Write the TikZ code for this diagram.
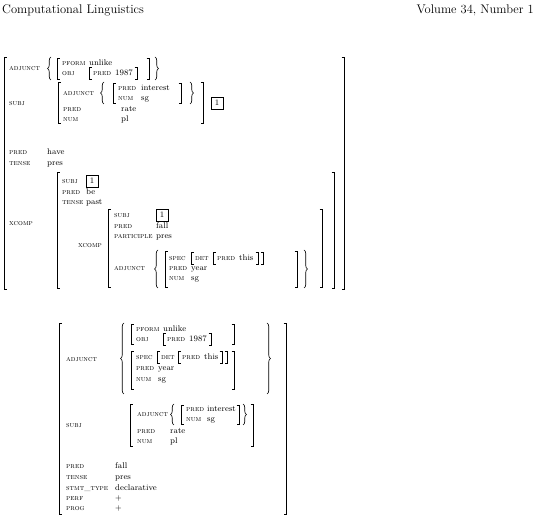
\documentclass[tikz,border=0pt]{standalone}
\usetikzlibrary{decorations.pathreplacing}
\tikzset{
 lab/.style={anchor=base west, inner sep=0pt, font=\fontsize{7.6}{8}\selectfont\scshape},
 val/.style={anchor=base west, inner sep=0pt, font=\fontsize{8.3}{9}\selectfont},
 hdr/.style={inner sep=0pt, font=\fontsize{12.5}{14}\selectfont},
 br/.style={line width=0.65pt},
 brc/.style={line width=0.65pt, decorate, decoration={brace, amplitude=3.5pt}},
 tag/.style={draw, line width=0.65pt, inner sep=0pt, minimum width=12pt, minimum height=12pt, font=\fontsize{8.3}{9}\selectfont},
}
\newcommand\avlab[4]{\node[lab] (#1) at (#2,#3+2.4) {#4};}
\newcommand\avval[4]{\node[val] (#1) at (#2,#3+2.7) {#4};}
\newcommand\lbrk[3]{\draw[br] (#1+2.5,#2) -- (#1,#2) -- (#1,#3) -- (#1+2.5,#3);}
\newcommand\rbrk[3]{\draw[br] (#1-2.5,#2) -- (#1,#2) -- (#1,#3) -- (#1-2.5,#3);}
\newcommand\lbrc[3]{\draw[brc] (#1+4,#3) -- (#1+4,#2);}
\newcommand\rbrc[3]{\draw[brc] (#1-4,#2) -- (#1-4,#3);}
\begin{document}
\begin{tikzpicture}[x=1pt,y=-1pt]
\useasboundingbox (0,0) rectangle (536,518);
% header
\node[hdr, anchor=base west] (h1) at (2,14) {Computational Linguistics};
\node[hdr, anchor=base east] (h2) at (534,14) {Volume 34, Number 1};
% ===== top matrix =====
\lbrk{4}{57}{289} \rbrk{344}{57}{289}
\avlab{a1}{9}{68}{adjunct}
\lbrc{47}{57}{80}
\lbrk{57}{58}{79}
\avlab{a2}{62}{63}{pform} \avval{a3}{89}{63}{unlike}
\avlab{a4}{62}{73}{obj} \lbrk{89}{67}{79} \avlab{a5}{93}{73}{pred} \avval{a6}{115}{73}{1987} \rbrk{137}{67}{79}
\rbrk{149}{58}{79}
\rbrc{159}{57}{80}
% subj
\avlab{b1}{9}{103}{subj}
\lbrk{58}{82}{123}
\avlab{b2}{63}{93}{adjunct}
\lbrc{100}{82}{104}
\lbrk{113}{83}{103}
\avlab{b3}{118}{88}{pred} \avval{b4}{141}{88}{interest}
\avlab{b5}{118}{98}{num} \avval{b6}{141}{98}{sg}
\rbrk{181}{83}{103}
\rbrc{194}{82}{104}
\avlab{b7}{63}{109}{pred} \avval{b8}{121}{109}{rate}
\avlab{b9}{63}{119}{num} \avval{b10}{121}{119}{pl}
\rbrk{203}{82}{123}
\node[tag] (g1) at (217,103) {1};
% pred, tense
\avlab{c1}{9}{152}{pred} \avval{c2}{47}{152}{have}
\avlab{c3}{9}{163}{tense} \avval{c4}{47}{163}{pres}
% xcomp
\avlab{d1}{9}{223}{xcomp}
\lbrk{57}{172}{288}
\avlab{d2}{62}{181}{subj} \node[tag] (g2) at (92,181) {1};
\avlab{d3}{62}{192}{pred} \avval{d4}{86}{192}{be}
\avlab{d5}{62}{202}{tense} \avval{d6}{86}{202}{past}
\avlab{d7}{78}{245}{xcomp}
\lbrk{108}{209}{287}
\avlab{d8}{114}{215}{subj} \node[tag] (g3) at (162,215) {1};
\avlab{d9}{114}{226}{pred} \avval{d10}{156}{226}{fall}
\avlab{d11}{114}{236}{participle} \avval{d12}{156}{236}{pres}
\avlab{d13}{114}{268}{adjunct}
\lbrc{154}{250}{288}
\lbrk{165}{251}{287}
\avlab{e1}{169}{258}{spec} \lbrk{191}{252}{264} \avlab{e2}{195}{258}{det} \lbrk{213}{252}{264} \avlab{e3}{217}{258}{pred} \avval{e4}{239}{258}{this} \rbrk{258}{252}{264} \rbrk{263}{252}{264}
\avlab{e5}{169}{268}{pred} \avval{e6}{191}{268}{year}
\avlab{e7}{169}{278}{num} \avval{e8}{191}{278}{sg}
\rbrk{297}{251}{287}
\rbrc{308}{250}{288}
\rbrk{322}{209}{287}
\rbrk{334}{172}{288}
% ===== bottom matrix =====
\lbrk{59}{323}{514} \rbrk{286}{323}{514}
\avlab{f1}{66}{359}{adjunct}
\lbrc{120}{323}{394}
\lbrk{131}{324}{344}
\avlab{f2}{136}{329}{pform} \avval{f3}{163}{329}{unlike}
\avlab{f4}{136}{339}{obj} \lbrk{163}{333}{345} \avlab{f5}{167}{339}{pred} \avval{f6}{189}{339}{1987} \rbrk{211}{333}{345}
\rbrk{234}{324}{344}
\lbrk{131}{351}{389}
\avlab{f7}{136}{357}{spec} \lbrk{157}{351}{363} \avlab{f8}{161}{357}{det} \lbrk{178}{351}{363} \avlab{f9}{182}{357}{pred} \avval{f10}{204}{357}{this} \rbrk{222}{351}{363} \rbrk{227}{351}{363}
\avlab{f11}{136}{368}{pred} \avval{f12}{158}{368}{year}
\avlab{f13}{136}{379}{num} \avval{f14}{158}{379}{sg}
\rbrk{234}{351}{389}
\rbrc{271}{323}{394}
% subj
\avlab{s1}{66}{425}{subj}
\lbrk{130}{404}{446}
\avlab{s2}{137}{414}{adjunct}
\lbrc{170}{404}{425}
\lbrk{181}{405}{424}
\avlab{s3}{186}{409}{pred} \avval{s4}{207}{409}{interest}
\avlab{s5}{186}{419}{num} \avval{s6}{207}{419}{sg}
\rbrk{239}{405}{424}
\rbrc{247}{404}{425}
\avlab{s7}{137}{431}{pred} \avval{s8}{170}{431}{rate}
\avlab{s9}{137}{441}{num} \avval{s10}{170}{441}{pl}
\rbrk{253}{404}{446}
% rest
\avlab{r1}{66}{466}{pred} \avval{r2}{115}{466}{fall}
\avlab{r3}{66}{477}{tense} \avval{r4}{115}{477}{pres}
\avlab{r5}{66}{488}{stmt\_type} \avval{r6}{115}{488}{declarative}
\avlab{r7}{66}{498}{perf} \avval{r8}{115}{498}{$+$}
\avlab{r9}{66}{508}{prog} \avval{r10}{115}{508}{$+$}
\end{tikzpicture}
\end{document}
